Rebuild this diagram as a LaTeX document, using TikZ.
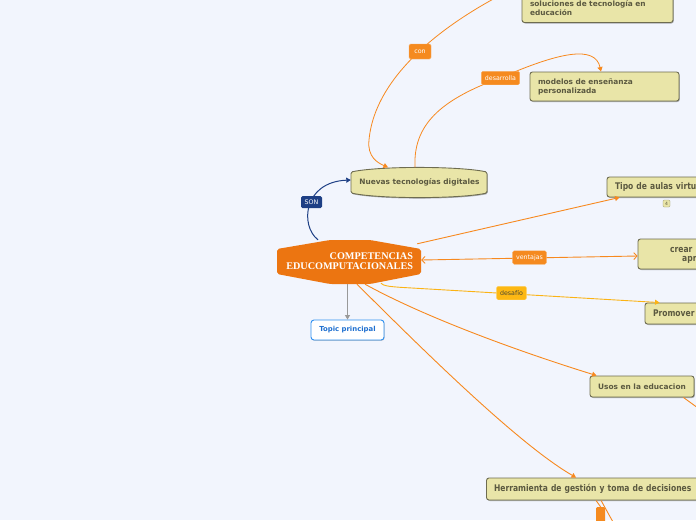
\documentclass[tikz,border=0pt]{standalone}
\usepackage{fontspec}
\setmainfont{DejaVu Sans}
\newfontfamily\serifbf{Liberation Serif}
\newfontfamily\tahomaish[FakeStretch=0.83]{DejaVu Sans}
\usetikzlibrary{arrows.meta,shadows,calc}
\definecolor{bgc}{HTML}{F2F5FD}
\definecolor{orln}{HTML}{F7891F}
\definecolor{orlab}{HTML}{F58A1F}
\definecolor{central}{HTML}{EC7511}
\definecolor{yelln}{HTML}{FBB315}
\definecolor{yellab}{HTML}{FDB813}
\definecolor{navy}{HTML}{1E3F85}
\definecolor{khaki}{HTML}{E9E5A8}
\definecolor{kborder}{HTML}{6E6C50}
\definecolor{ktext}{HTML}{5B5940}
\definecolor{tblue}{HTML}{1E6FD0}
\definecolor{tbord}{HTML}{2E90F0}
\tikzset{
  kbox/.style={draw=kborder, fill=khaki, rounded corners=2.5pt, line width=0.9pt,
    text=ktext, inner sep=0pt,
    drop shadow={shadow xshift=0.8pt, shadow yshift=-1pt, opacity=0.3, fill=black}},
  vfont/.style={font=\bfseries\fontsize{7.4}{9}\selectfont},
  tfont/.style={font=\tahomaish\bfseries\fontsize{9.15}{10}\selectfont},
  lab/.style={rounded corners=1.5pt, inner xsep=3.5pt, inner ysep=0pt, minimum height=13.5pt,
    font=\fontsize{6.3}{7}\selectfont, text=white},
  orlabel/.style={lab, fill=orlab, draw=orlab!70!white, line width=0.4pt},
  oredge/.style={draw=orln, line width=0.9pt},
  ortip/.style={-{Triangle[length=4.5pt,width=5pt]}},
}
\begin{document}
\begin{tikzpicture}[x=1pt,y=-1pt]
\useasboundingbox (0,0) rectangle (696,520);
\fill[bgc] (0,0) rectangle (696,520);
\clip (0,0) rectangle (696,520);

% ---------- nodes ----------
\node[minimum width=144pt, minimum height=44pt, inner sep=0pt] (central) at (349,262) {};
\fill[central, rounded corners=2pt]
  (277,249) -- (330,240) -- (370,240) -- (421,249) -- (421,274) -- (370,284) -- (330,284) -- (277,274) -- cycle;
\node[text width=128pt, align=right, text=white, inner sep=0pt,
      font=\serifbf\bfseries\fontsize{10.2}{10}\selectfont] (ctext) at (349,261.5)
  {COMPETENCIAS\\EDUCOMPUTACIONALES};

\node[minimum width=136pt, minimum height=30pt, inner sep=0pt] (nuevas) at (419,182.5) {};
\draw[draw=kborder, fill=khaki, line width=0.9pt, rounded corners=1.5pt,
      drop shadow={shadow xshift=0.8pt, shadow yshift=-1pt, opacity=0.3, fill=black}]
  (351,172) .. controls (380,166) and (458,166) .. (487,172) -- (487,193)
  .. controls (458,199) and (380,199) .. (351,193) -- cycle;
\node[vfont, text=ktext] (nuevastext) at (419.5,182.5) {Nuevas tecnologías digitales};

\node[kbox, vfont, minimum width=151pt, minimum height=29pt, text width=135pt, align=left]
  (sol) at (597.5,8) {soluciones de tecnología en\\educación};
\node[kbox, vfont, minimum width=149pt, minimum height=29pt, text width=133pt, align=left]
  (modelos) at (604.5,86.5) {modelos de enseñanza\\personalizada};

\node[kbox, tfont, minimum width=113pt, minimum height=20pt, text width=97pt, align=left]
  (tipo) at (663.5,187) {Tipo de aulas virtu};
\node[draw=kborder!60!khaki, fill=khaki, rounded corners=1.2pt, line width=0.4pt,
      minimum width=7pt, minimum height=7pt, inner sep=0pt, text=ktext,
      font=\fontsize{4.5}{5}\selectfont] (badge) at (666.5,203.5) {4};

\node[kbox, minimum width=120pt, minimum height=30pt] (crear) at (698,254) {};
\node[tfont, text=ktext, anchor=west, inner sep=0pt] (creart) at (670,249.5) {crear};
\node[tfont, text=ktext, anchor=west, inner sep=0pt] (aprt) at (682,259.5) {apr};

\node[kbox, tfont, minimum width=115pt, minimum height=21pt, text width=99pt, align=left]
  (promover) at (702.5,313.5) {Promover};

\node[kbox, vfont, minimum width=104pt, minimum height=21pt] (usos) at (642,386.5) {Usos en la educacion};

\node[kbox, tfont, minimum width=233pt, minimum height=22pt, text width=218pt, align=left]
  (herr) at (603,489) {Herramienta de gestión y toma de decisiones};

\node[draw=tbord, fill=white, rounded corners=3pt, line width=0.9pt, text=tblue,
      font=\bfseries\fontsize{6.9}{8}\selectfont, minimum width=73pt, minimum height=20pt,
      inner sep=0pt,
      drop shadow={shadow xshift=0.6pt, shadow yshift=-0.8pt, opacity=0.2, fill=black}]
  (topic) at (347.5,330) {Topic principal};

\node[fill=orlab, rounded corners=1pt, minimum width=9pt, minimum height=16pt, inner sep=0pt,
      anchor=north west] (hsub) at (596,507) {};

\coordinate (offtop) at (497,-3);
\coordinate (offright) at (700,409.5);
\coordinate (offbottom) at (613,522);

% ---------- connectors ----------
\draw[oredge, ortip] ([xshift=-4pt,yshift=-4pt]central.north east) -- ([xshift=13pt]tipo.south west);
\draw[oredge, {Straight Barb[length=3.2pt,width=7pt]}-{Straight Barb[length=3.2pt,width=7pt]}]
  ([yshift=2pt]central.east) -- ([yshift=-2pt]crear.west);
\draw[draw=yelln, line width=0.9pt, ortip]
  ([xshift=32pt,yshift=1pt]central.south) .. controls (383,286) and (390,286.5) .. (400,287.3)
  -- ([xshift=15pt]promover.north west);
\draw[oredge, ortip] ([xshift=16pt]central.south) .. controls (430,320) and (530,355) .. ([xshift=7pt]usos.north west);
\draw[oredge, ortip] ([xshift=8pt]central.south) .. controls (430,357) and (520,445) .. ([xshift=90pt]herr.north west);
\draw[draw=gray!80, line width=0.9pt, ortip] (topic.north |- central.south) -- (topic.north);
\draw[draw=navy, line width=1pt, ortip] ([xshift=-31pt]central.north) .. controls (300,226) and (303,182) .. ([yshift=2.5pt]nuevas.west);
\draw[oredge, line width=0.8pt, ortip] (offtop) .. controls (445,25) and (375,75) .. (369,140)
  .. controls (367,157) and (378,163) .. ([xshift=-31pt]nuevas.north);
\draw[oredge, line width=0.8pt, ortip] ([xshift=-4pt]nuevas.north) .. controls (413,125) and (440,100) .. (500,78)
  .. controls (560,52) and (595,45) .. ([xshift=-3.5pt]modelos.north);
\draw[oredge] ([xshift=-11pt]usos.south east) -- (offright);
\draw[oredge] ([xshift=110pt]herr.south west) -- (hsub.north);
\draw[oredge] ([xshift=115pt]herr.south west) -- (offbottom);

% ---------- labels ----------
\node[lab, fill=navy, minimum width=21pt, minimum height=12pt] (son) at (311.5,202) {SON};
\node[orlabel, minimum width=22pt, minimum height=15pt] (con) at (420,51.5) {con};
\node[orlabel] (desarrolla) at (500.5,78) {desarrolla};
\node[orlabel] (ventajas) at (529.5,257.5) {ventajas};
\node[lab, fill=yellab, draw=yellab!70!white, line width=0.4pt, text=ktext!80!black] (desafio) at (511.5,293) {desafío};
\end{tikzpicture}
\end{document}
